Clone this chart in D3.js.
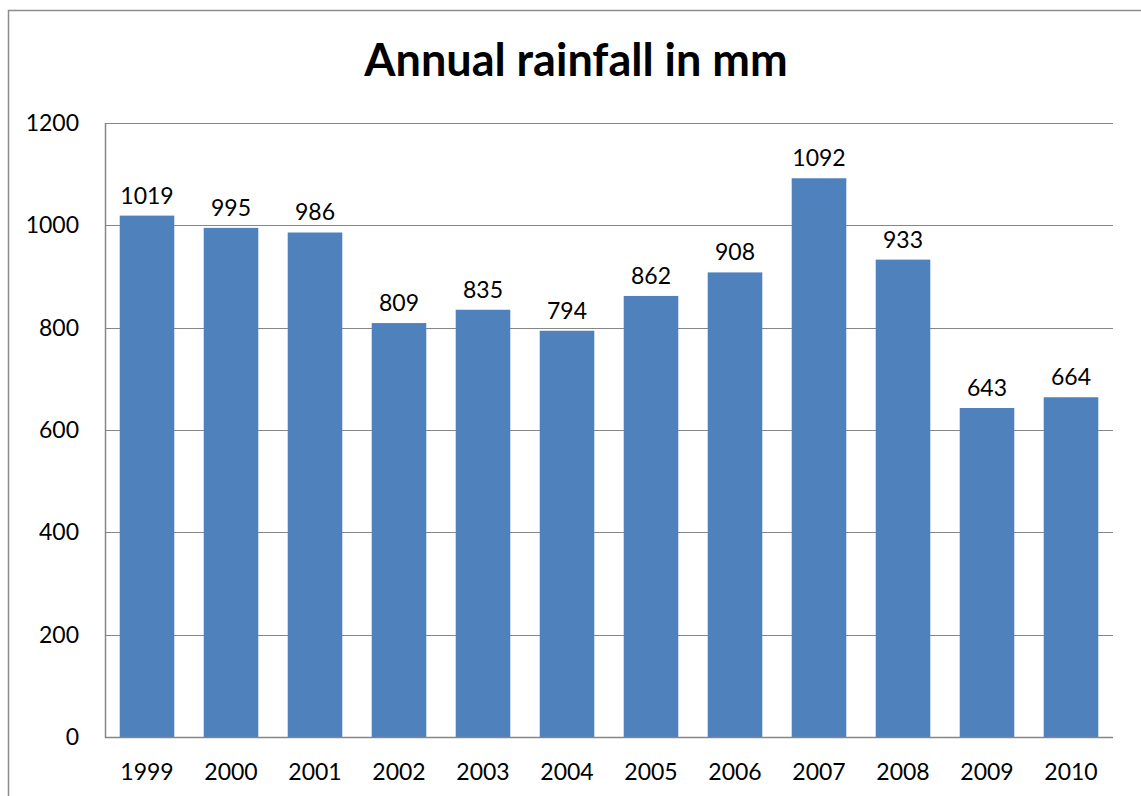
<!DOCTYPE html>
<html>
<head>
<meta charset="utf-8">
<script src="https://cdn.jsdelivr.net/npm/d3@7"></script>
<style>
  html, body { margin: 0; padding: 0; background: #fff; }
  svg { display: block; }
</style>
</head>
<body>
<svg id="chart" width="1141" height="796"></svg>
<script>
const years = ["1999", "2000", "2001", "2002", "2003", "2004", "2005", "2006", "2007", "2008", "2009", "2010"];
const rainfall = [1019, 995, 986, 809, 835, 794, 862, 908, 1092, 933, 643, 664];
const yTicks = [0, 200, 400, 600, 800, 1000, 1200];
const titleText = "Annual rainfall in mm";

const svg = d3.select("#chart");
const font = "Lato, 'Open Sans', 'DejaVu Sans', sans-serif";
const labelSize = 23;

// chart area frame
svg.append("rect")
  .attr("x", 8.5).attr("y", 10.5)
  .attr("width", 1150).attr("height", 800)
  .attr("fill", "none").attr("stroke", "#8c8c8c").attr("stroke-width", 1.5);

const plot = { left: 105, right: 1113, top: 123, bottom: 737 };

const x = d3.scaleBand()
  .domain(years)
  .range([plot.left, plot.right])
  .paddingInner(0.35)
  .paddingOuter(0.175);

const y = d3.scaleLinear()
  .domain([0, 1200])
  .range([plot.bottom, plot.top]);

// horizontal gridlines
svg.append("g")
  .selectAll("line")
  .data(yTicks)
  .join("line")
  .attr("x1", plot.left).attr("x2", plot.right)
  .attr("y1", d => Math.round(y(d)) + 0.5).attr("y2", d => Math.round(y(d)) + 0.5)
  .attr("stroke", "#868686").attr("stroke-width", 1);

const rows = years.map((yr, i) => ({ yr, v: rainfall[i] }));

// bars
svg.append("g")
  .selectAll("rect")
  .data(rows)
  .join("rect")
  .attr("x", d => x(d.yr))
  .attr("width", x.bandwidth())
  .attr("y", d => y(d.v))
  .attr("height", d => y(0) - y(d.v))
  .attr("fill", "#4f81bd");

// value labels
svg.append("g")
  .selectAll("text")
  .data(rows)
  .join("text")
  .attr("x", d => x(d.yr) + x.bandwidth() / 2)
  .attr("y", d => y(d.v) - 12)
  .attr("text-anchor", "middle")
  .attr("font-family", font).attr("font-size", labelSize)
  .attr("fill", "#000")
  .text(d => d.v);

// axis lines
svg.append("line")
  .attr("x1", plot.left + 0.5).attr("x2", plot.left + 0.5)
  .attr("y1", plot.top).attr("y2", plot.bottom + 1)
  .attr("stroke", "#868686").attr("stroke-width", 1.5);
svg.append("line")
  .attr("x1", plot.left).attr("x2", plot.right)
  .attr("y1", plot.bottom + 0.5).attr("y2", plot.bottom + 0.5)
  .attr("stroke", "#868686").attr("stroke-width", 1.5);

// y axis tick labels
const yAxis = d3.axisLeft(y).tickValues(yTicks).tickFormat(d3.format("d")).tickSize(0).tickPadding(26);
const gy = svg.append("g").attr("transform", `translate(${plot.left},0)`).call(yAxis);
gy.select(".domain").remove();
gy.selectAll("text")
  .attr("font-family", font).attr("font-size", labelSize).attr("fill", "#000");

// x axis tick labels
const xAxis = d3.axisBottom(x).tickSize(0).tickPadding(27);
const gx = svg.append("g").attr("transform", `translate(0,${plot.bottom})`).call(xAxis);
gx.select(".domain").remove();
gx.selectAll("text")
  .attr("font-family", font).attr("font-size", labelSize).attr("fill", "#000");

// title
svg.append("text")
  .attr("x", 576).attr("y", 76)
  .attr("text-anchor", "middle")
  .attr("font-family", font).attr("font-size", 45).attr("font-weight", "bold")
  .attr("fill", "#000")
  .text(titleText);
</script>
</body>
</html>
